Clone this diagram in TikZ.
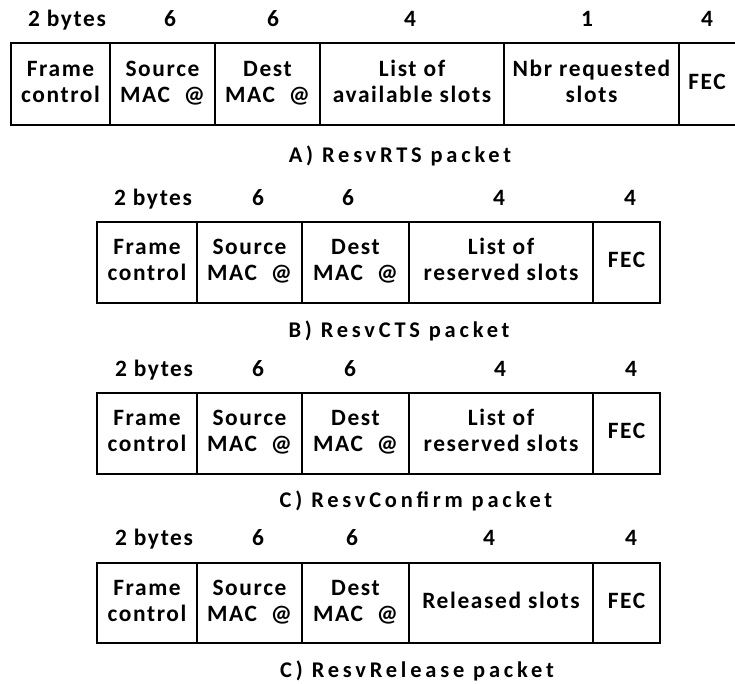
\documentclass[tikz,border=0pt]{standalone}
\usepackage{fontspec}
\setmainfont{Carlito}
\newfontfamily\cellfont[LetterSpace=7]{Carlito}
\newfontfamily\capfont[LetterSpace=17]{Carlito}
% two-line cell label with equal struts on both lines
\newcommand\twoline[2]{\strut #1\\\strut #2}
\begin{document}
\begin{tikzpicture}[x=1bp,y=-1bp,
  box/.style={line width=1.1bp,draw=black},
  hdr/.style={anchor=base,inner sep=0pt,font=\cellfont\bfseries\fontsize{23.5}{27}\selectfont},
  cell/.style={align=center,inner sep=0pt,font=\cellfont\bfseries\fontsize{23.5}{26.5}\selectfont},
  captxt/.style={anchor=base,inner sep=0pt,font=\capfont\bfseries\fontsize{22.5}{25}\selectfont}]
\useasboundingbox (0,0) rectangle (735,684);

% ---------------- A) ResvRTS ----------------
\draw[box] (11,43) rectangle (737,125);
\foreach \x in {110,215,320,504,679} \draw[box] (\x,43) -- (\x,125);
\node[hdr] (ah1) at (67,27) {2 bytes};
\node[hdr] (ah2) at (170,27) {6};
\node[hdr] (ah3) at (273,27) {6};
\node[hdr] (ah4) at (410,27) {4};
\node[hdr] (ah5) at (587,27) {1};
\node[hdr] (ah6) at (707,27) {4};
\node[cell] (ac1) at (60.5,84) {\twoline{Frame}{control}};
\node[cell] (ac2) at (162.5,84) {\twoline{Source}{MAC\ \ @}};
\node[cell] (ac3) at (267.5,84) {\twoline{Dest}{MAC\ \ @}};
\node[cell] (ac4) at (412,84) {\twoline{List of}{available slots}};
\node[cell] (ac5) at (591.5,84) {\twoline{Nbr requested}{slots}};
\node[cell] (ac6) at (707,84) {\strut FEC};
\node[captxt] (acap) at (400,162) {A) ResvRTS packet};

% ---------------- B) ResvCTS ----------------
\draw[box] (97,222) rectangle (660,303);
\foreach \x in {197,302,409,593} \draw[box] (\x,222) -- (\x,303);
\node[hdr] (bh1) at (153,205) {2 bytes};
\node[hdr] (bh2) at (258,205) {6};
\node[hdr] (bh3) at (348,205) {6};
\node[hdr] (bh4) at (499,205) {4};
\node[hdr] (bh5) at (630,205) {4};
\node[cell] (bc1) at (147,262.5) {\twoline{Frame}{control}};
\node[cell] (bc2) at (249.5,262.5) {\twoline{Source}{MAC\ \ @}};
\node[cell] (bc3) at (355.5,262.5) {\twoline{Dest}{MAC\ \ @}};
\node[cell] (bc4) at (501,262.5) {\twoline{List of}{reserved slots}};
\node[cell] (bc5) at (626.5,262.5) {\strut FEC};
\node[captxt] (bcap) at (399,337) {B) ResvCTS packet};

% ---------------- C) ResvConfirm ----------------
\draw[box] (97,393) rectangle (660,474);
\foreach \x in {197,302,409,593} \draw[box] (\x,393) -- (\x,474);
\node[hdr] (ch1) at (154,376) {2 bytes};
\node[hdr] (ch2) at (258,376) {6};
\node[hdr] (ch3) at (350,376) {6};
\node[hdr] (ch4) at (500,376) {4};
\node[hdr] (ch5) at (631,376) {4};
\node[cell] (cc1) at (147,433.5) {\twoline{Frame}{control}};
\node[cell] (cc2) at (249.5,433.5) {\twoline{Source}{MAC\ \ @}};
\node[cell] (cc3) at (355.5,433.5) {\twoline{Dest}{MAC\ \ @}};
\node[cell] (cc4) at (501,433.5) {\twoline{List of}{reserved slots}};
\node[cell] (cc5) at (626.5,433.5) {\strut FEC};
\node[captxt] (ccap) at (416,507) {C) ResvConfirm packet};

% ---------------- C) ResvRelease ----------------
\draw[box] (97,563) rectangle (660,643);
\foreach \x in {197,302,409,593} \draw[box] (\x,563) -- (\x,643);
\node[hdr] (dh1) at (154,545) {2 bytes};
\node[hdr] (dh2) at (258,545) {6};
\node[hdr] (dh3) at (352,545) {6};
\node[hdr] (dh4) at (489,545) {4};
\node[hdr] (dh5) at (631,545) {4};
\node[cell] (dc1) at (147,603) {\twoline{Frame}{control}};
\node[cell] (dc2) at (249.5,603) {\twoline{Source}{MAC\ \ @}};
\node[cell] (dc3) at (355.5,603) {\twoline{Dest}{MAC\ \ @}};
\node[cell] (dc4) at (501,603) {\strut Released slots};
\node[cell] (dc5) at (626.5,603) {\strut FEC};
\node[captxt] (dcap) at (417,677) {C) ResvRelease packet};
\end{tikzpicture}
\end{document}
